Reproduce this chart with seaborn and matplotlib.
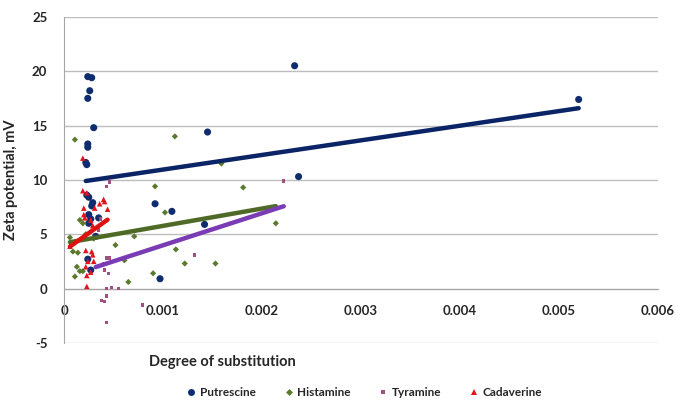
import numpy as np
import pandas as pd
import matplotlib
matplotlib.use('Agg')
import matplotlib.pyplot as plt
import seaborn as sns
from matplotlib.lines import Line2D

# Data
series = ['Putrescine', 'Histamine', 'Tyramine', 'Cadaverine']

put_x = [0.00024, 0.00028, 0.00026, 0.00024, 0.00030, 0.00024, 0.00024, 0.00022, 0.00023,
         0.00023, 0.00025, 0.00029, 0.00028, 0.00025, 0.00027, 0.00035, 0.00025, 0.00032,
         0.00024, 0.00027, 0.00092, 0.00109, 0.00145, 0.00142, 0.00237, 0.00233, 0.00520,
         0.00097]
put_y = [19.5, 19.4, 18.2, 17.5, 14.8, 13.3, 13.0, 11.6, 11.4,
         8.6, 8.4, 7.9, 7.6, 6.8, 6.4, 6.5, 6.0, 4.8,
         2.7, 1.7, 7.8, 7.1, 14.4, 5.9, 10.3, 20.5, 17.4,
         0.9]

his_x = [0.00011, 0.00112, 0.00092, 0.00159, 0.00181, 0.00214, 0.00113, 0.00122, 0.00153,
         0.00102, 0.00071, 0.00052, 0.00061, 0.00090, 0.00065, 0.00016, 0.00019, 0.00006,
         0.00009, 0.00014, 0.00013, 0.00016, 0.00019, 0.00011, 0.00030, 0.00022]
his_y = [13.7, 14.0, 9.4, 11.5, 9.3, 6.0, 3.6, 2.3, 2.3,
         7.0, 4.8, 4.0, 2.6, 1.4, 0.6, 6.3, 6.0, 4.7,
         3.4, 3.3, 2.0, 1.6, 1.6, 1.1, 4.6, 5.0]

tyr_x = [0.00046, 0.00046, 0.00043, 0.00035, 0.00043, 0.00046, 0.00040, 0.00041, 0.00045,
         0.00043, 0.00048, 0.00055, 0.00038, 0.00043, 0.00041, 0.00079, 0.00043, 0.00222,
         0.00132, 0.00032, 0.00037]
tyr_y = [10.2, 9.8, 9.4, 5.4, 2.8, 2.8, 2.3, 1.7, 1.4,
         0.0, 0.1, 0.0, -1.1, -0.7, -1.2, -1.5, -3.1, 9.9,
         3.1, 4.6, 6.4]

cad_x = [0.00019, 0.00023, 0.00019, 0.00040, 0.00041, 0.00020, 0.00031, 0.00044, 0.00021,
         0.00027, 0.00029, 0.00006, 0.00022, 0.00028, 0.00029, 0.00024, 0.00030, 0.00022,
         0.00027, 0.00023, 0.00023, 0.00036, 0.00020]
cad_y = [12.0, 8.8, 9.0, 8.2, 8.0, 7.4, 7.4, 7.3, 6.5,
         6.3, 5.8, 3.9, 3.5, 3.4, 3.1, 2.5, 2.5, 2.0,
         1.5, 1.2, 0.2, 7.8, 6.8]

# linear trend lines (slope, intercept)
trend_slope = [1345, 1594, 2947, 6511]
trend_icpt = [9.6, 4.17, 1.03, 3.47]

marker_cols = ['#0F2D6E', '#5C7A2E', '#A05080', '#E3141B']
line_cols = ['#0A2466', '#4F6A26', '#7A3CB4', '#E01010']
markers = ['o', 'D', 's', '^']
sizes = [26, 10, 6, 16]

xs = [put_x, his_x, tyr_x, cad_x]
ys = [put_y, his_y, tyr_y, cad_y]
df = pd.concat([pd.DataFrame({'x': x, 'y': y, 'amine': s}) for x, y, s in zip(xs, ys, series)],
               ignore_index=True)

sns.set_style('white')
plt.rcParams['font.family'] = ['Lato', 'DejaVu Sans']

fig = plt.figure(figsize=(6.81, 4.01), dpi=100)
ax = fig.add_axes([0.094, 0.145, 0.872, 0.813])

ax.yaxis.grid(True, color='#BDBDBD', linewidth=1)
ax.set_axisbelow(True)

for i, s in enumerate(series):
    sub = df[df['amine'] == s]
    sns.scatterplot(data=sub, x='x', y='y', ax=ax, color=marker_cols[i], marker=markers[i],
                    s=sizes[i], edgecolor='none', legend=False, zorder=3)

# trend lines, over each series' x range
for i, s in enumerate(series):
    sub = df[df['amine'] == s]
    tx = np.array([sub['x'].min(), sub['x'].max()])
    trend = pd.DataFrame({'x': tx, 'y': trend_slope[i] * tx + trend_icpt[i]})
    sns.lineplot(data=trend, x='x', y='y', ax=ax, color=line_cols[i], linewidth=3.2,
                 zorder=4, legend=False)

ax.set_xlim(0, 0.006)
ax.set_ylim(-5, 25)
ax.set_xticks([0, 0.001, 0.002, 0.003, 0.004, 0.005, 0.006])
ax.set_xticklabels(['0', '0.001', '0.002', '0.003', '0.004', '0.005', '0.006'])
ax.set_yticks([-5, 0, 5, 10, 15, 20, 25])
ax.set_yticklabels(['-5', '0', '5', '10', '15', '20', '25'])

for sp in ['top', 'right']:
    ax.spines[sp].set_visible(False)
ax.spines['bottom'].set_position(('data', 0))
ax.spines['bottom'].set_color('#A6A6A6')
ax.spines['left'].set_color('#A6A6A6')
ax.tick_params(axis='x', length=0, pad=12, labelsize=9.5)
ax.tick_params(axis='y', length=4, color='#A6A6A6', direction='out', pad=8, labelsize=9.5)
for lab in ax.get_xticklabels() + ax.get_yticklabels():
    lab.set_fontweight('bold')

ax.set_xlabel('')
ax.set_ylabel('Zeta potential, mV', fontsize=10.5, fontweight='bold', labelpad=10)
fig.text(0.326, 0.097, 'Degree of substitution', fontsize=10.5, fontweight='bold',
         ha='center', va='center')

handles = [Line2D([], [], linestyle='none', marker=markers[i], color=marker_cols[i],
                  markersize=[5, 3.5, 3, 4.5][i], markeredgewidth=0) for i in range(4)]
leg = fig.legend(handles, series, loc='center', bbox_to_anchor=(0.535, 0.02), ncol=4,
                 frameon=False, handletextpad=0.3, columnspacing=2.4, handlelength=0.8,
                 prop={'weight': 'bold', 'size': 8.5})

plt.savefig('out.png', dpi=100)
